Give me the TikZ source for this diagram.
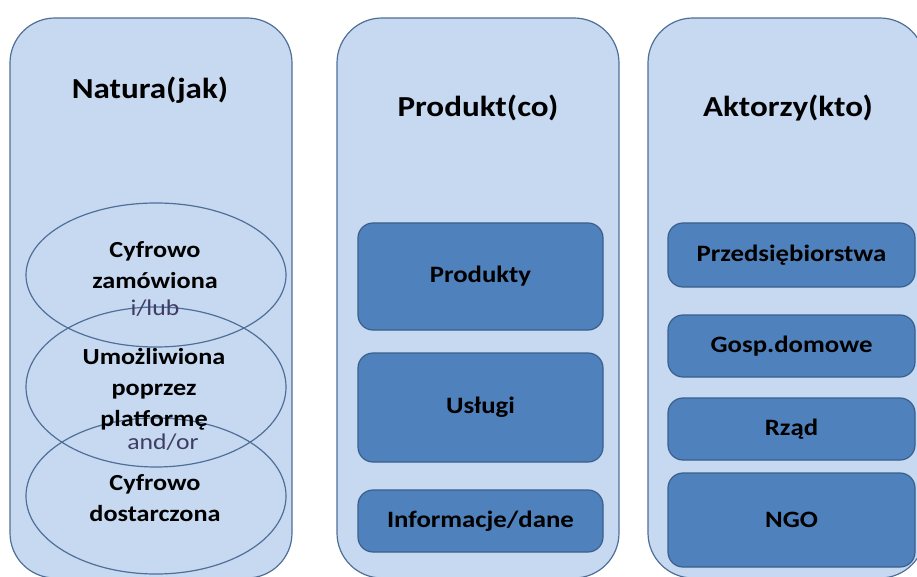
\documentclass[tikz,border=0pt]{standalone}
\usepackage{fontspec}
\setmainfont[FakeStretch=1.14]{Carlito}
\usetikzlibrary{shapes.geometric}

\definecolor{colfill}{HTML}{C6D9F1}
\definecolor{coledge}{HTML}{4F6F98}
\definecolor{boxfill}{HTML}{4F81BD}
\definecolor{boxedge}{HTML}{3A5F8C}
\definecolor{joiner}{HTML}{3F3C66}

\begin{document}
\begin{tikzpicture}[x=1pt,y=-1pt,
  column/.style={draw=coledge, fill=colfill, line width=1.2pt,
    rounded corners=45pt, inner sep=0pt},
  coltitle/.style={font=\bfseries\fontsize{29}{33}\selectfont, text=black},
  itembox/.style={draw=boxedge, fill=boxfill, line width=1.2pt,
    rounded corners=15pt, inner sep=0pt,
    font=\bfseries\fontsize{23.5}{27}\selectfont, text=black},
  oval/.style={draw=coledge, ellipse, line width=1.2pt, inner sep=0pt,
    minimum width=260pt},
  ovaltext/.style={font=\bfseries\fontsize{23}{31}\selectfont, align=center,
    text=black, inner sep=0pt},
  joinword/.style={font=\fontsize{22.5}{26}\selectfont, text=joiner, inner sep=0pt}
]
\useasboundingbox (0,0) rectangle (917,577);

% three columns
\node[column, minimum width=282pt, minimum height=560pt] (natura) at (151,298) {};
\node[column, minimum width=282pt, minimum height=560pt] (produkt) at (478,298) {};
\node[column, minimum width=277pt, minimum height=560pt] (aktorzy) at (786.5,298) {};

\node[coltitle] (tnatura) at (150,90) {Natura(jak)};
\node[coltitle] (tprodukt) at (478,108) {Produkt(co)};
\node[coltitle] (taktorzy) at (788,108) {Aktorzy(kto)};

% overlapping ovals of the first column
\node[oval, minimum height=144pt] (o1) at (156,275) {};
\node[oval, minimum height=160pt] (o2) at (156,387) {};
\node[oval, minimum height=156pt] (o3) at (156,496) {};

\node[ovaltext] (t1) at (155,265) {Cyfrowo\\zamówiona};
\node[joinword] (j1) at (155,308) {i/lub};
\node[ovaltext] (t2) at (154,389) {Umożliwiona\\poprzez\\platformę};
\node[joinword] (j2) at (163,442) {and/or};
\node[ovaltext] (t3) at (155,498) {Cyfrowo\\dostarczona};

% products
\node[itembox, minimum width=245pt, minimum height=107pt] (p1) at (480.5,276.5) {Produkty};
\node[itembox, minimum width=245pt, minimum height=109pt] (p2) at (480.5,407.5) {Usługi};
\node[itembox, minimum width=245pt, minimum height=62pt] (p3) at (480.5,521) {Informacje/dane};

% actors
\node[itembox, minimum width=247pt, minimum height=64pt] (a1) at (791.5,255) {Przedsiębiorstwa};
\node[itembox, minimum width=247pt, minimum height=62pt] (a2) at (791.5,346) {Gosp.domowe};
\node[itembox, minimum width=247pt, minimum height=62pt] (a3) at (791.5,429) {Rząd};
\node[itembox, minimum width=247pt, minimum height=94pt] (a4) at (791.5,520) {NGO};
\end{tikzpicture}
\end{document}
